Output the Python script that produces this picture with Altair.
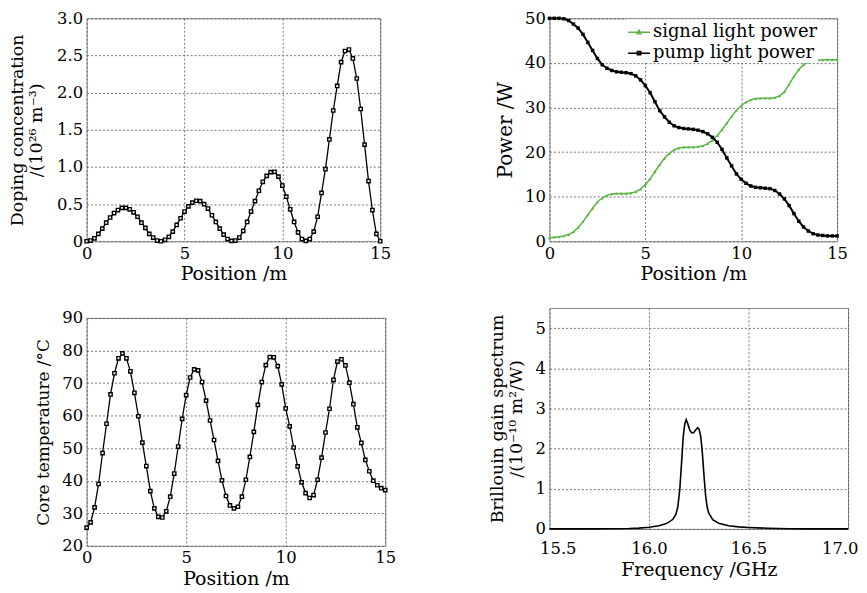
import altair as alt
import pandas as pd

FONT = "DejaVu Serif"

# ---------------- data ----------------
pos_02 = [round(i * 0.2, 1) for i in range(76)]
doping = [0.00, 0.01, 0.04, 0.10, 0.17, 0.25, 0.32, 0.38, 0.42, 0.45,
          0.45, 0.43, 0.39, 0.33, 0.25, 0.18, 0.10, 0.05, 0.01, 0.00,
          0.02, 0.06, 0.13, 0.22, 0.31, 0.40, 0.47, 0.52, 0.545, 0.54,
          0.50, 0.44, 0.35, 0.26, 0.17, 0.09, 0.03, 0.005, 0.01, 0.05,
          0.14, 0.26, 0.40, 0.54, 0.68, 0.80, 0.88, 0.93, 0.935, 0.87,
          0.75, 0.60, 0.43, 0.26, 0.12, 0.03, 0.005, 0.03, 0.13, 0.33,
          0.65, 0.97, 1.37, 1.76, 2.09, 2.41, 2.56, 2.58, 2.46, 2.19,
          1.78, 1.30, 0.81, 0.42, 0.10, 0.00]
temperature = [25.6, 27.2, 31.8, 39.0, 48.5, 57.5, 66.5, 73.0, 77.6, 79.1,
               77.6, 73.6, 67.0, 59.8, 51.7, 44.5, 36.8, 31.5, 28.9, 28.7,
               30.6, 35.1, 42.2, 50.5, 59.0, 66.3, 71.7, 74.2, 73.9, 70.3,
               64.6, 58.5, 52.5, 46.1, 40.1, 35.3, 32.4, 31.5, 32.0, 35.1,
               40.3, 47.3, 55.0, 63.3, 70.3, 75.5, 78.0, 77.9, 75.2, 69.6,
               62.2, 56.7, 50.2, 44.4, 39.5, 36.2, 34.7, 35.6, 40.3, 47.1,
               54.8, 62.1, 71.0, 76.6, 77.3, 75.4, 70.1, 63.5, 56.4, 51.6,
               46.4, 42.9, 40.0, 38.6, 37.7, 37.1]

pos_025 = [i * 0.25 for i in range(61)]
signal_power = [0.8, 0.9, 1.0, 1.2, 1.5, 2.1, 3.1, 4.4, 5.9, 7.4,
                8.8, 9.7, 10.3, 10.6, 10.7, 10.7, 10.7, 10.8, 11.1, 11.7,
                12.7, 14.0, 15.6, 17.2, 18.6, 19.7, 20.5, 20.9, 21.1, 21.1,
                21.1, 21.2, 21.4, 21.9, 22.6, 23.7, 25.0, 26.5, 28.0, 29.4,
                30.4, 31.2, 31.7, 32.0, 32.1, 32.1, 32.1, 32.2, 32.6, 33.5,
                35.2, 37.0, 38.5, 39.6, 40.2, 40.5, 40.6, 40.7, 40.7, 40.7,
                40.7]
pump_power = [50.0, 50.0, 50.0, 49.9, 49.5, 48.7, 47.8, 46.4, 44.6, 42.8,
              41.0, 39.6, 38.8, 38.3, 38.0, 37.9, 37.8, 37.6, 37.1, 36.2,
              34.9, 33.3, 31.3, 29.3, 27.9, 26.7, 25.9, 25.5, 25.3, 25.2,
              25.1, 24.9, 24.6, 24.1, 23.3, 22.2, 20.6, 18.7, 16.9, 15.1,
              13.9, 13.0, 12.4, 12.1, 12.0, 11.9, 11.8, 11.4, 10.6, 9.5,
              8.0, 6.2, 4.5, 3.2, 2.3, 1.7, 1.4, 1.3, 1.2, 1.2,
              1.2]
series_names = ["signal light power", "pump light power"]
series_colors = ["#5cb645", "#000000"]

freq = [15.5, 15.6, 15.7, 15.8, 15.9, 15.95, 16.0, 16.05, 16.08, 16.1,
        16.12, 16.135, 16.145, 16.155, 16.165, 16.172, 16.18, 16.187, 16.195, 16.205,
        16.215, 16.225, 16.235, 16.245, 16.252, 16.26, 16.268, 16.276, 16.284, 16.292,
        16.30, 16.32, 16.35, 16.4, 16.45, 16.5, 16.6, 16.7, 16.8, 16.9, 17.0]
gain = [0.0, 0.0, 0.0, 0.005, 0.01, 0.02, 0.04, 0.08, 0.12, 0.17,
        0.24, 0.36, 0.55, 1.0, 1.75, 2.3, 2.62, 2.72, 2.62, 2.46,
        2.39, 2.40, 2.47, 2.52, 2.48, 2.3, 1.9, 1.35, 0.85, 0.55,
        0.40, 0.23, 0.14, 0.08, 0.05, 0.035, 0.015, 0.005, 0.0, 0.0, 0.0]

# ---------------- panels ----------------
def xpos(title="Position /m"):
    return alt.X("x:Q", scale=alt.Scale(domain=[0, 15], nice=False),
                 axis=alt.Axis(values=[0, 5, 10, 15], title=title))

# Panel 1: doping
df1 = pd.DataFrame({"x": pos_02, "y": doping})
y1 = alt.Y("y:Q", scale=alt.Scale(domain=[0, 3], nice=False),
           axis=alt.Axis(values=[0, 0.5, 1, 1.5, 2, 2.5, 3],
                         labelExpr="datum.value == 0 ? '0' : format(datum.value, '.1f')",
                         title=["Doping concentration", "/(10²⁶ m⁻³)"],
                         titleFontSize=17.5, titlePadding=11))
base1 = alt.Chart(df1).encode(x=xpos(), y=y1)
p1 = alt.layer(
    base1.mark_line(color="black", strokeWidth=1.3),
    base1.mark_point(shape="square", size=11, filled=True, fill="white",
                     stroke="black", strokeWidth=1.4, opacity=1),
).properties(width=295, height=224)

# Panel 3: temperature
df3 = pd.DataFrame({"x": pos_02, "y": temperature})
y3 = alt.Y("y:Q", scale=alt.Scale(domain=[20, 90], nice=False),
           axis=alt.Axis(values=list(range(20, 91, 10)), title="Core temperature /°C",
                         titleFontSize=17))
base3 = alt.Chart(df3).encode(x=xpos(), y=y3)
p3 = alt.layer(
    base3.mark_line(color="black", strokeWidth=1.3),
    base3.mark_point(shape="square", size=11, filled=True, fill="white",
                     stroke="black", strokeWidth=1.4, opacity=1),
).properties(width=300, height=229)

# Panel 2: power
df2 = pd.DataFrame({
    "x": pos_025 + pos_025,
    "y": signal_power + pump_power,
    "series": [series_names[0]] * len(pos_025) + [series_names[1]] * len(pos_025),
})
y2 = alt.Y("y:Q", scale=alt.Scale(domain=[0, 50], nice=False),
           axis=alt.Axis(values=[0, 10, 20, 30, 40, 50], title="Power /W",
                         titleFontSize=20))
base2 = alt.Chart(df2).encode(x=xpos(), y=y2)
sig = base2.transform_filter(alt.datum.series == series_names[0])
pmp = base2.transform_filter(alt.datum.series == series_names[1])
legend2 = alt.Legend(orient="none", legendX=542, legendY=1, title=None,
                     fillColor="white", padding=1, symbolSize=484,
                     symbolStrokeWidth=1.5, symbolOpacity=1,
                     labelFont=FONT, labelFontSize=18, labelLimit=400,
                     labelOffset=2, rowPadding=-1)
shape_paths = ["M-1,0L1,0M0,-0.2L0.18,0.13L-0.18,0.13Z",
               "M-1,0L1,0M-0.15,-0.15L0.15,-0.15L0.15,0.15L-0.15,0.15Z"]
p2 = alt.layer(
    sig.mark_line(color=series_colors[0], strokeWidth=1.5),
    pmp.mark_line(color="black", strokeWidth=2),
    sig.mark_point(shape="triangle-up", size=10, filled=True, color=series_colors[0],
                   opacity=1),
    pmp.mark_point(shape="square", size=12, filled=True, color="black", opacity=1),
    base2.transform_filter("false").mark_point(filled=False).encode(
        color=alt.Color("series:N", scale=alt.Scale(domain=series_names, range=series_colors),
                        legend=legend2),
        shape=alt.Shape("series:N", scale=alt.Scale(domain=series_names, range=shape_paths),
                        legend=legend2),
    ),
).properties(width=289, height=224)

# Panel 4: Brillouin gain
df4 = pd.DataFrame({"f": freq, "g": gain})
p4 = alt.Chart(df4).mark_line(color="black", strokeWidth=1.6).encode(
    x=alt.X("f:Q", scale=alt.Scale(domain=[15.5, 17.0], nice=False),
            axis=alt.Axis(values=[15.5, 16.0, 16.5, 17.0], format=".1f",
                          title="Frequency /GHz", labelFlush=True, labelFlushOffset=10,
                          labelPadding=12)),
    y=alt.Y("g:Q", scale=alt.Scale(domain=[0, 5.5], nice=False),
            axis=alt.Axis(values=[0, 1, 2, 3, 4, 5],
                          title=["Brillouin gain spectrum", "/(10⁻¹⁰ m²/W)"],
                          titleFontSize=17.5, titlePadding=10)),
).properties(width=300, height=222)

chart = alt.hconcat(
    alt.vconcat(p1, p3, spacing=25),
    alt.vconcat(p2, p4, spacing=23),
    spacing=92,
).properties(
    padding={"left": 0, "top": 0, "right": 0, "bottom": 0}
).configure_axis(
    labelFont=FONT, labelFontSize=16.5, titleFont=FONT, titleFontSize=19,
    titleFontWeight="normal", labelColor="black", titleColor="black",
    domain=False, ticks=False, grid=True, gridColor="#555", gridDash=[2, 2],
    gridWidth=0.8, labelPadding=4, labelFlush=False, labelOverlap=False,
    titleLineHeight=19,
).configure_axisX(titlePadding=3).configure_axisY(titlePadding=9).configure_view(
    stroke="#888", strokeWidth=1
)

chart.save("out.html", embed_options={"renderer": "svg", "actions": False})
